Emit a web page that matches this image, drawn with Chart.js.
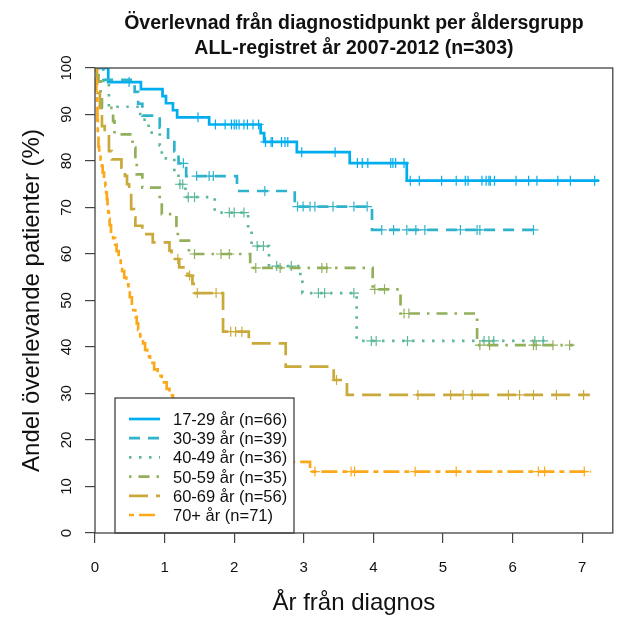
<!DOCTYPE html>
<html>
<head>
<meta charset="utf-8">
<script src="https://cdn.jsdelivr.net/npm/chart.js@4"></script>
<style>
  body { margin: 0; background: #fff; }
  canvas { display: block; }
</style>
</head>
<body>
<canvas id="km" width="619" height="617"></canvas>
<script>
// Kaplan-Meier curves: event times (years) and survival (%)
const groupLabels = ['17-29 år (n=66)', '30-39 år (n=39)', '40-49 år (n=36)',
                     '50-59 år (n=35)', '60-69 år (n=56)', '70+ år (n=71)'];

const times1729 = [0, 0.19, 0.66, 0.97, 1.02, 1.12, 1.18, 1.64, 2.38, 2.43, 2.90, 3.66, 4.48, 7.24];
const surv1729  = [100, 96.97, 95.45, 93.94, 92.42, 90.91, 89.39, 87.85, 85.98, 84.11, 81.90, 79.56, 75.77, 75.77];
const cens1729  = [0.49, 1.48, 1.73, 1.87, 1.96, 2.0, 2.03, 2.07, 2.14, 2.19, 2.27, 2.35, 2.45, 2.53, 2.55,
                   2.68, 2.73, 2.77, 2.97, 3.45, 3.77, 3.84, 3.92, 4.25, 4.28, 4.32, 4.44, 4.53, 4.66, 4.98,
                   5.19, 5.32, 5.36, 5.56, 5.62, 5.66, 5.68, 5.74, 6.05, 6.23, 6.35, 6.65, 6.83, 7.18];

const times3039 = [0, 0.12, 0.57, 0.62, 0.68, 0.93, 1.05, 1.14, 1.20, 1.31, 2.04, 2.87, 3.98, 6.38];
const surv3039  = [100, 97.44, 94.87, 92.31, 89.74, 87.18, 84.62, 82.05, 79.49, 76.75, 73.55, 70.2, 65.18, 65.18];
const cens3039  = [1.27, 1.46, 1.64, 1.70, 2.44, 2.91, 2.99, 3.09, 3.16, 3.42, 3.72, 3.91, 4.12, 4.29,
                   4.48, 4.61, 4.74, 5.25, 5.49, 5.53, 6.30];

const times4049 = [0, 0.05, 0.2, 0.65, 0.77, 0.93, 0.96, 1.14, 1.2, 1.3, 1.72, 2.2, 2.25, 2.5, 2.95, 2.98, 3.76, 6.46];
const surv4049  = [100, 97.22, 91.67, 88.89, 86.11, 83.33, 80.56, 77.78, 75.0, 72.22, 68.9, 65.3, 61.7, 57.4, 54.5, 51.6, 41.3, 41.3];
const cens4049  = [1.22, 1.26, 1.34, 1.43, 1.93, 2.0, 2.14, 2.33, 2.42, 2.61, 2.82, 3.21, 3.30, 3.72,
                   3.97, 4.04, 4.49, 5.59, 5.66, 5.73, 6.32, 6.44];

const times5059 = [0, 0.05, 0.08, 0.1, 0.26, 0.28, 0.54, 0.58, 0.6, 0.68, 0.93, 0.96, 1.17, 1.19, 1.35, 2.23, 3.99, 4.39, 5.49, 6.87];
const surv5059  = [100, 97.14, 94.29, 91.43, 88.57, 85.71, 82.86, 80.0, 77.14, 74.29, 71.43, 68.57, 65.71, 62.86, 60.0, 57.0, 52.4, 47.2, 40.4, 40.4];
const cens5059  = [1.43, 1.81, 1.93, 2.31, 2.66, 3.26, 3.33, 4.02, 4.16, 4.44, 4.51, 5.53, 5.67, 6.30, 6.34, 6.58, 6.82];

const times6069 = [0, 0.03, 0.07, 0.1, 0.14, 0.2, 0.24, 0.38, 0.43, 0.46, 0.49, 0.52, 0.56, 0.58, 0.68, 0.83,
                   1.07, 1.1, 1.21, 1.33, 1.4, 1.44, 1.84, 2.21, 2.74, 3.43, 3.62, 7.11];
const surv6069  = [100, 94.64, 91.07, 87.5, 85.71, 82.14, 80.36, 78.57, 76.79, 75.0, 73.21, 69.64, 67.86, 66.07, 64.29, 62.5,
                   60.71, 58.93, 57.14, 55.36, 53.57, 51.6, 43.3, 40.8, 35.8, 32.9, 29.7, 29.7];
const cens6069  = [1.19, 1.36, 1.47, 1.74, 1.95, 2.02, 2.11, 3.47, 4.64, 5.11, 5.29, 5.42, 5.94, 6.10, 6.30, 6.63, 7.02];

const times70 = [0, 0.01, 0.02, 0.03, 0.035, 0.04, 0.05, 0.06, 0.08, 0.1, 0.11, 0.13, 0.15, 0.16, 0.17, 0.18, 0.19, 0.2,
                 0.21, 0.23, 0.26, 0.29, 0.31, 0.34, 0.37, 0.39, 0.42, 0.45, 0.48, 0.5, 0.53, 0.55, 0.58, 0.6, 0.62,
                 0.65, 0.69, 0.72, 0.75, 0.79, 0.85, 0.9, 0.96, 1.03, 1.07, 1.12, 1.2, 1.3, 1.42, 1.55, 1.7, 1.85,
                 2.05, 2.3, 2.55, 3.09, 7.13];
const surv70  = [100, 97.2, 94.4, 91.5, 88.7, 85.9, 83.1, 81.7, 80.3, 78.9, 77.5, 76.1, 74.6, 73.2, 71.8, 70.4, 69.0, 67.6,
                 66.2, 64.8, 63.4, 62.0, 60.6, 59.2, 57.7, 56.3, 54.9, 53.5, 52.1, 50.7, 49.3, 47.9, 46.5, 45.1, 43.7,
                 42.3, 40.8, 39.4, 38.0, 36.6, 35.2, 33.8, 32.4, 31.0, 29.6, 28.2, 26.8, 25.4, 23.9, 22.5, 21.1, 19.7,
                 18.3, 16.9, 15.3, 13.2, 13.2];
const cens70  = [3.16, 3.68, 3.73, 4.60, 5.19, 6.37, 6.46, 7.03];

const xTicks = [0, 1, 2, 3, 4, 5, 6, 7];
const yTicks = [0, 10, 20, 30, 40, 50, 60, 70, 80, 90, 100];

const titleLines = ['Överlevnad från diagnostidpunkt per åldersgrupp', 'ALL-registret år 2007-2012 (n=303)'];
const xTitle = 'År från diagnos';
const yTitle = 'Andel överlevande patienter (%)';

// styles
const FONT = "'Liberation Sans', Arial, sans-serif";
const lineColors = ['#00aeef', '#2fb2cc', '#5db89b', '#92b05c', '#c9a93a', '#fba91a'];
const lineDashes = [[], [11, 8], [2.5, 7.5], [2.5, 7, 11, 7], [19, 8], [5, 5, 16, 5]];

const groups = [
  { t: times1729, s: surv1729, c: cens1729 },
  { t: times3039, s: surv3039, c: cens3039 },
  { t: times4049, s: surv4049, c: cens4049 },
  { t: times5059, s: surv5059, c: cens5059 },
  { t: times6069, s: surv6069, c: cens6069 },
  { t: times70,   s: surv70,   c: cens70 }
];

// survival value at time t (step function lookup)
function survAt(times, surv, t) {
  let v = surv[0];
  for (let i = 0; i < times.length; i++) {
    if (times[i] <= t) v = surv[i];
  }
  return v;
}

const datasets = [];
groups.forEach((g, i) => {
  datasets.push({
    label: groupLabels[i],
    data: g.t.map((t, k) => ({ x: t, y: g.s[k] })),
    stepped: true,
    borderColor: lineColors[i],
    borderWidth: 2.7,
    borderDash: lineDashes[i],
    pointRadius: 0,
    fill: false,
    order: 20 - i
  });
  datasets.push({
    label: groupLabels[i] + ' (censur)',
    data: g.c.map(t => ({ x: t, y: survAt(g.t, g.s, t) })),
    showLine: false,
    pointStyle: 'cross',
    pointRadius: 5,
    borderColor: lineColors[i],
    pointBorderColor: lineColors[i],
    pointBorderWidth: 1.2,
    order: 20 - i
  });
});

// R-style decorations: box, rotated y labels, titles, legend inside the plot
const rStyle = {
  id: 'rStyle',
  afterDatasetsDraw(chart) {
    const ctx = chart.ctx;
    const area = chart.chartArea;
    const lx = area.left + 20, lw = 179, lh = 135, ly = area.bottom - lh;
    ctx.save();
    ctx.fillStyle = '#fff';
    ctx.fillRect(lx, ly, lw, lh);
    ctx.strokeStyle = '#333';
    ctx.lineWidth = 1.2;
    ctx.strokeRect(lx, ly, lw, lh);
    groupLabels.forEach((lab, i) => {
      const ry = ly + 22.5 + i * 19.2;
      ctx.setLineDash(lineDashes[i]);
      ctx.strokeStyle = lineColors[i];
      ctx.lineWidth = 2.7;
      ctx.beginPath();
      ctx.moveTo(lx + 14, ry - 1.5);
      ctx.lineTo(lx + 45, ry - 1.5);
      ctx.stroke();
      ctx.setLineDash([]);
      ctx.fillStyle = '#111';
      ctx.font = '16.5px ' + FONT;
      ctx.textAlign = 'left';
      ctx.textBaseline = 'middle';
      ctx.fillText(lab, lx + 58, ry);
    });
    ctx.restore();
  },
  afterDraw(chart) {
    const ctx = chart.ctx;
    const { left, right, top, bottom } = chart.chartArea;
    const cx = (left + right) / 2;
    ctx.save();
    ctx.strokeStyle = '#444';
    ctx.lineWidth = 1.3;
    ctx.strokeRect(left, top, right - left, bottom - top);

    ctx.fillStyle = '#111';
    ctx.textAlign = 'center';
    ctx.textBaseline = 'middle';
    ctx.font = '15px ' + FONT;
    const ys = chart.scales.y;
    yTicks.forEach(v => {
      ctx.save();
      ctx.translate(left - 28, ys.getPixelForValue(v));
      ctx.rotate(-Math.PI / 2);
      ctx.fillText(String(v), 0, 0);
      ctx.restore();
    });

    ctx.font = '24px ' + FONT;
    ctx.save();
    ctx.translate(32, (top + bottom) / 2);
    ctx.rotate(-Math.PI / 2);
    ctx.fillText(yTitle, 0, 0);
    ctx.restore();
    ctx.fillText(xTitle, cx, 603);

    ctx.font = 'bold 19.5px ' + FONT;
    ctx.textBaseline = 'alphabetic';
    ctx.fillText(titleLines[0], cx, 29);
    ctx.fillText(titleLines[1], cx, 54);
    ctx.restore();
  }
};

new Chart(document.getElementById('km'), {
  type: 'line',
  data: { datasets: datasets },
  options: {
    responsive: false,
    animation: false,
    layout: { padding: { top: 68, right: 2, left: 0, bottom: 0 } },
    plugins: {
      legend: { display: false },
      title: { display: false },
      tooltip: { enabled: false }
    },
    scales: {
      x: {
        type: 'linear',
        min: 0,
        max: 7.44,
        afterFit: s => { s.height = 84; },
        afterBuildTicks: s => { s.ticks = xTicks.map(v => ({ value: v })); },
        ticks: { font: { family: FONT, size: 15 }, color: '#111', padding: 16, maxRotation: 0 },
        grid: { drawOnChartArea: false, drawTicks: true, tickLength: 10, color: '#444', tickColor: '#444', lineWidth: 1.2 },
        border: { display: false }
      },
      y: {
        type: 'linear',
        min: 0,
        max: 100,
        afterFit: s => { s.width = 95; },
        afterBuildTicks: s => { s.ticks = yTicks.map(v => ({ value: v })); },
        ticks: { display: false },
        grid: { drawOnChartArea: false, drawTicks: true, tickLength: 10, color: '#444', tickColor: '#444', lineWidth: 1.2 },
        border: { display: false }
      }
    }
  },
  plugins: [rStyle]
});
</script>
</body>
</html>
